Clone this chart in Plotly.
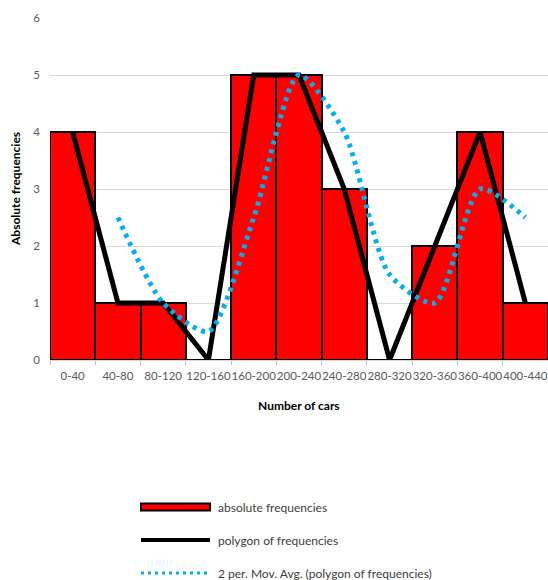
import plotly.graph_objects as go

categories = ["0-40", "40-80", "80-120", "120-160", "160-200", "200-240",
              "240-280", "280-320", "320-360", "360-400", "400-440"]
frequencies = [4, 1, 1, 0, 5, 5, 3, 0, 2, 4, 1]
mov_avg = [None, 2.5, 1, 0.5, 2.5, 5, 4, 1.5, 1, 3, 2.5]

W, H = 548, 580
L, R, T, B = 50, 0, 18, 220
FONT = "Lato, Open Sans, sans-serif"

fig = go.Figure()
fig.add_trace(go.Bar(
    x=categories, y=frequencies, name="absolute frequencies",
    marker=dict(color="#FF0000", line=dict(color="black", width=2)),
    showlegend=False))
fig.add_trace(go.Scatter(
    x=categories, y=frequencies, name="polygon of frequencies", mode="lines",
    line=dict(color="black", width=5), showlegend=False))
fig.add_trace(go.Scatter(
    x=categories, y=mov_avg, name="2 per. Mov. Avg. (polygon of frequencies)",
    mode="lines", line=dict(color="#00B0F0", width=5, dash="4px,5px", shape="spline", smoothing=0.7),
    connectgaps=False, showlegend=False))

pw = W - L - R
ph = H - T - B
def px2x(px):
    return (px - L) / pw
def py2y(py):
    return (H - B - py) / ph

shapes = []
annotations = []
legend_items = [
    ("bar", "absolute frequencies", 507),
    ("line", "polygon of frequencies", 540),
    ("dot", "2 per. Mov. Avg. (polygon of frequencies)", 573),
]
for kind, label, py in legend_items:
    if kind == "bar":
        shapes.append(dict(type="rect", xref="paper", yref="paper",
                           x0=px2x(141), x1=px2x(210), y0=py2y(py + 3.5), y1=py2y(py - 3.5),
                           fillcolor="#FF0000", line=dict(color="black", width=2)))
    elif kind == "line":
        shapes.append(dict(type="line", xref="paper", yref="paper",
                           x0=px2x(141), x1=px2x(210), y0=py2y(py), y1=py2y(py),
                           line=dict(color="black", width=4)))
    else:
        shapes.append(dict(type="line", xref="paper", yref="paper",
                           x0=px2x(141), x1=px2x(210), y0=py2y(py), y1=py2y(py),
                           line=dict(color="#00B0F0", width=3, dash="3px,4px")))
    annotations.append(dict(text=label, xref="paper", yref="paper",
                            x=px2x(216), y=py2y(py), xanchor="left", yanchor="middle",
                            showarrow=False, font=dict(size=12, color="#404040", family=FONT)))

# axis titles
annotations.append(dict(text="<b>Number of cars</b>", xref="paper", yref="paper",
                        x=0.5, y=py2y(405), xanchor="center", yanchor="middle",
                        showarrow=False, font=dict(size=12, color="black", family=FONT)))
annotations.append(dict(text="<b>Absolute frequencies</b>", xref="paper", yref="paper",
                        x=px2x(15), y=0.5, xanchor="center", yanchor="middle", textangle=-90,
                        showarrow=False, font=dict(size=12, color="black", family=FONT)))

fig.update_layout(
    width=W, height=H,
    margin=dict(l=L, r=R, t=T, b=B, autoexpand=False),
    paper_bgcolor="white", plot_bgcolor="white",
    bargap=0,
    font=dict(family=FONT, size=11, color="#595959"),
    shapes=shapes, annotations=annotations,
    showlegend=False,
    xaxis=dict(
        type="category", tickangle=0, automargin=False,
        ticks="outside", tickson="boundaries", ticklen=4, tickcolor="#BFBFBF",
        showline=True, linecolor="#D9D9D9", linewidth=1,
        ticklabelstandoff=5,
        tickfont=dict(size=11.5, color="#595959", family=FONT),
    ),
    yaxis=dict(
        range=[0, 6], dtick=1, showgrid=True, gridcolor="#D9D9D9", gridwidth=1,
        zeroline=False, showline=False, ticks="", automargin=False,
        ticklabelstandoff=9,
        tickfont=dict(size=11.5, color="#595959", family=FONT),
    ),
)

fig.write_html(
    "out.html",
    config={"displayModeBar": False},
    post_script="document.body.style.margin='0';document.body.style.overflow='hidden';",
)
